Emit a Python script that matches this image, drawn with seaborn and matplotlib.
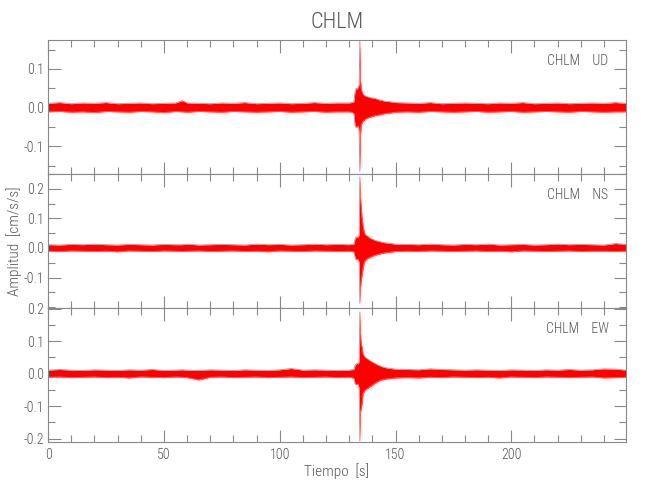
import numpy as np
import pandas as pd
import matplotlib
matplotlib.use('Agg')
import matplotlib.pyplot as plt
import seaborn as sns
from matplotlib.ticker import MultipleLocator, FixedLocator, FormatStrFormatter
from matplotlib import font_manager

station = 'CHLM'
components = ['UD', 'NS', 'EW']

# envelope of each trace (cm/s/s)
noise_t1 = [0, 5, 10, 15, 20, 25, 30, 35, 40, 45, 50, 55, 58, 60, 65, 70, 75, 80, 85, 90, 95, 100, 105, 110, 115, 120, 125]
event_t = [130, 131, 132, 132.5, 133, 133.5, 134, 134.3, 134.6, 134.9, 135.2, 135.6, 136, 136.5, 137, 138, 139, 140,
           141, 142, 143, 144, 145, 146, 148, 150]
noise_t2 = [155, 160, 165, 170, 175, 180, 185, 190, 195, 200, 205, 210, 215, 220, 225, 230, 235, 240, 245, 249.5]

ud_upper = [0.011, 0.013, 0.010, 0.012, 0.011, 0.013, 0.010, 0.011, 0.012, 0.010, 0.011, 0.012, 0.018, 0.012, 0.011,
            0.010, 0.012, 0.011, 0.013, 0.010, 0.011, 0.012, 0.010, 0.011, 0.013, 0.011, 0.012,
            0.012, 0.013, 0.015, 0.040, 0.050, 0.048, 0.055, 0.060, 0.172, 0.070, 0.050, 0.040, 0.035, 0.032, 0.030,
            0.028, 0.026, 0.025, 0.024, 0.022, 0.020, 0.019, 0.017, 0.016, 0.015, 0.013,
            0.012, 0.011, 0.013, 0.010, 0.011, 0.012, 0.011, 0.010, 0.012, 0.011, 0.013, 0.010, 0.011, 0.012, 0.010,
            0.011, 0.012, 0.011, 0.013, 0.011]
ud_lower = [-0.011, -0.010, -0.012, -0.011, -0.013, -0.010, -0.011, -0.012, -0.010, -0.011, -0.013, -0.010, -0.011,
            -0.012, -0.010, -0.011, -0.012, -0.010, -0.011, -0.012, -0.011, -0.010, -0.012, -0.011, -0.010, -0.012,
            -0.011,
            -0.011, -0.012, -0.015, -0.045, -0.051, -0.050, -0.048, -0.065, -0.165, -0.070, -0.045, -0.040, -0.036,
            -0.033, -0.030, -0.027, -0.025, -0.023, -0.021, -0.020, -0.019, -0.018, -0.016, -0.015, -0.014, -0.012,
            -0.011, -0.012, -0.010, -0.011, -0.012, -0.011, -0.010, -0.012, -0.011, -0.010, -0.012, -0.011, -0.010,
            -0.011, -0.012, -0.010, -0.011, -0.012, -0.011, -0.011]

ns_upper = [0.011, 0.010, 0.012, 0.011, 0.013, 0.011, 0.010, 0.012, 0.011, 0.010, 0.012, 0.011, 0.011, 0.013, 0.010,
            0.011, 0.012, 0.011, 0.010, 0.013, 0.011, 0.012, 0.010, 0.011, 0.013, 0.011, 0.012,
            0.011, 0.012, 0.013, 0.030, 0.038, 0.036, 0.038, 0.045, 0.240, 0.170, 0.140, 0.100, 0.077, 0.054, 0.045,
            0.040, 0.033, 0.030, 0.026, 0.024, 0.022, 0.020, 0.018, 0.017, 0.015, 0.013,
            0.012, 0.011, 0.013, 0.011, 0.010, 0.012, 0.011, 0.013, 0.010, 0.011, 0.012, 0.010, 0.011, 0.013, 0.011,
            0.012, 0.011, 0.010, 0.015, 0.012]
ns_lower = [-0.011, -0.012, -0.010, -0.011, -0.012, -0.011, -0.013, -0.010, -0.011, -0.012, -0.010, -0.011, -0.012,
            -0.011, -0.010, -0.012, -0.011, -0.010, -0.012, -0.011, -0.013, -0.010, -0.011, -0.012, -0.010, -0.011,
            -0.012,
            -0.011, -0.012, -0.013, -0.030, -0.040, -0.038, -0.040, -0.050, -0.187, -0.135, -0.110, -0.090, -0.068,
            -0.050, -0.042, -0.036, -0.032, -0.028, -0.025, -0.023, -0.021, -0.019, -0.017, -0.016, -0.014, -0.012,
            -0.011, -0.012, -0.010, -0.011, -0.012, -0.011, -0.010, -0.012, -0.011, -0.013, -0.010, -0.011, -0.012,
            -0.011, -0.010, -0.012, -0.011, -0.011, -0.012, -0.011]

ew_upper = [0.011, 0.013, 0.011, 0.010, 0.012, 0.011, 0.010, 0.012, 0.011, 0.013, 0.010, 0.011, 0.012, 0.011, 0.010,
            0.012, 0.011, 0.010, 0.012, 0.011, 0.010, 0.012, 0.016, 0.011, 0.012, 0.011, 0.010,
            0.011, 0.012, 0.013, 0.025, 0.030, 0.032, 0.030, 0.040, 0.190, 0.124, 0.090, 0.082, 0.060, 0.055, 0.050,
            0.045, 0.040, 0.036, 0.032, 0.028, 0.025, 0.022, 0.020, 0.018, 0.016, 0.014,
            0.013, 0.012, 0.015, 0.013, 0.012, 0.011, 0.012, 0.011, 0.010, 0.012, 0.011, 0.010, 0.012, 0.011, 0.013,
            0.011, 0.012, 0.015, 0.014, 0.011]
ew_lower = [-0.011, -0.010, -0.012, -0.011, -0.010, -0.012, -0.011, -0.013, -0.010, -0.011, -0.012, -0.010, -0.011,
            -0.012, -0.019, -0.011, -0.010, -0.012, -0.011, -0.010, -0.012, -0.011, -0.010, -0.012, -0.011, -0.010,
            -0.012,
            -0.011, -0.012, -0.014, -0.030, -0.034, -0.032, -0.034, -0.050, -0.207, -0.118, -0.107, -0.090, -0.060,
            -0.055, -0.050, -0.045, -0.040, -0.036, -0.030, -0.026, -0.022, -0.019, -0.018, -0.016, -0.015, -0.013,
            -0.012, -0.013, -0.011, -0.012, -0.010, -0.011, -0.012, -0.011, -0.013, -0.010, -0.011, -0.012, -0.010,
            -0.011, -0.012, -0.011, -0.010, -0.013, -0.012, -0.011]

ylims = [(-0.172, 0.175), (-0.203, 0.25), (-0.21, 0.202)]
yticks = [[-0.1, 0.0, 0.1], [-0.1, 0.0, 0.1, 0.2], [-0.2, -0.1, 0.0, 0.1, 0.2]]

times = noise_t1 + event_t + noise_t2
uppers = [ud_upper, ns_upper, ew_upper]
lowers = [ud_lower, ns_lower, ew_lower]

sns.set_style('ticks')
installed = {f.name for f in font_manager.fontManager.ttflist}
wanted = ['Roboto Condensed', 'Liberation Sans Narrow', 'DejaVu Sans Condensed', 'Roboto', 'Liberation Sans',
          'DejaVu Sans']
plt.rcParams['font.family'] = [f for f in wanted if f in installed] or ['DejaVu Sans']
plt.rcParams['font.weight'] = 'light'
plt.rcParams['font.stretch'] = 'condensed'
text_color = '#555555'
axis_color = '#888888'

fig, axes = plt.subplots(3, 1, figsize=(6.5, 5), dpi=100, sharex=True)
fig.subplots_adjust(left=0.074, right=0.963, top=0.92, bottom=0.116, hspace=0)

for i, ax in enumerate(axes):
    df = pd.DataFrame({'t': times, 'upper': uppers[i], 'lower': lowers[i]})
    ax.fill_between(df['t'], df['lower'], df['upper'], color='#ff0000', linewidth=0)
    sns.lineplot(data=df, x='t', y='upper', ax=ax, color='#ff7070', linewidth=0.6)
    sns.lineplot(data=df, x='t', y='lower', ax=ax, color='#ff7070', linewidth=0.6)
    ax.set_xlim(0, 249.5)
    ax.set_ylim(*ylims[i])
    ax.yaxis.set_major_locator(FixedLocator(yticks[i]))
    ax.yaxis.set_minor_locator(MultipleLocator(0.05))
    ax.xaxis.set_major_locator(MultipleLocator(50))
    ax.xaxis.set_minor_locator(MultipleLocator(10))
    ax.tick_params(which='both', direction='in', top=True, right=True, color=axis_color,
                   labelcolor=text_color, labelsize=10)
    ax.tick_params(which='major', length=9, width=0.8)
    ax.tick_params(which='minor', length=5, width=0.8)
    ax.yaxis.set_major_formatter(FormatStrFormatter('%.1f'))
    for s in ax.spines.values():
        s.set_color(axis_color)
        s.set_linewidth(0.8)
    ax.set_xlabel('')
    ax.set_ylabel('')
    ax.text(0.97, 0.84, station + '    ' + components[i], transform=ax.transAxes, ha='right', va='center',
            fontsize=10, color=text_color)
    ax.tick_params(axis='y', pad=3)

axes[-1].xaxis.set_major_formatter(FormatStrFormatter('%d'))
axes[-1].tick_params(axis='x', pad=4)

fig.text(0.518, 0.955, station, ha='center', va='center', fontsize=16, color=text_color)
fig.text(0.518, 0.058, 'Tiempo  [s]', ha='center', va='center', fontsize=11, color=text_color)
fig.text(0.022, 0.518, 'Amplitud  [cm/s/s]', ha='center', va='center', rotation=90, fontsize=11,
         color=text_color)

fig.savefig('out.png', dpi=100)
